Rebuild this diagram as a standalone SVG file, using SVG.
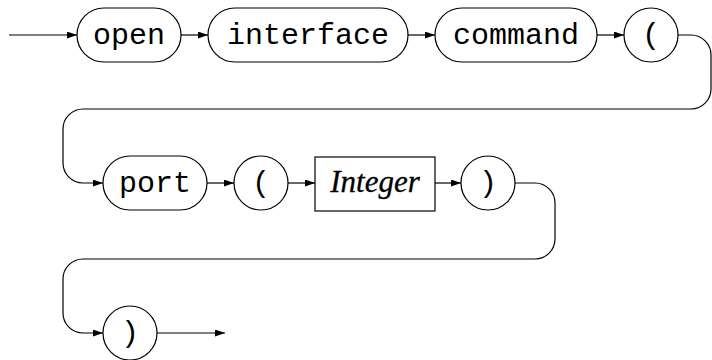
<svg xmlns="http://www.w3.org/2000/svg" width="712" height="360" viewBox="0 0 712 360">
  <style>
    .term { fill: #fff; stroke: #000; stroke-width: 1.2; }
    .nt { fill: #fff; stroke: #000; stroke-width: 1.2; }
    .lit { font-family: "Liberation Mono", "Courier New", monospace; font-size: 30px; fill: #000; text-anchor: middle; }
    .ref { font-family: "Liberation Serif", "Times New Roman", serif; font-size: 31px; font-style: italic; fill: #000; stroke: #000; stroke-width: 0.3; text-anchor: middle; }
    .wire { fill: none; stroke: #000; stroke-width: 1.2; }
  </style>
  <defs>
    <marker id="arrow" markerUnits="userSpaceOnUse" markerWidth="10" markerHeight="8" refX="10" refY="3.5" orient="auto">
      <path d="M0,0 L10,3.5 L0,7 z" fill="#000"/>
    </marker>
  </defs>

  <!-- connectors -->
  <g id="connectors">
    <path class="wire" d="M9,35 H77" marker-end="url(#arrow)"/>
    <path class="wire" d="M181,35 H208" marker-end="url(#arrow)"/>
    <path class="wire" d="M408,35 H435" marker-end="url(#arrow)"/>
    <path class="wire" d="M597,35 H624" marker-end="url(#arrow)"/>
    <path class="wire" d="M678,35 H691 A20,20 0 0 1 711,55 V89 A20,20 0 0 1 691,109 H83 A20,20 0 0 0 63,129 V163 A20,20 0 0 0 83,183 H103" marker-end="url(#arrow)"/>
    <path class="wire" d="M207,183 H234" marker-end="url(#arrow)"/>
    <path class="wire" d="M288,183 H315" marker-end="url(#arrow)"/>
    <path class="wire" d="M435,183 H461" marker-end="url(#arrow)"/>
    <path class="wire" d="M515,183 H535 A20,20 0 0 1 555,203 V239 A20,20 0 0 1 535,259 H83 A20,20 0 0 0 63,279 V313 A20,20 0 0 0 83,333 H103" marker-end="url(#arrow)"/>
    <path class="wire" d="M157,333 H225" marker-end="url(#arrow)"/>
  </g>

  <!-- row 1 -->
  <g id="open">
    <rect class="term" x="77" y="8" width="104" height="54" rx="27" ry="27"/>
    <text class="lit" x="129" y="44">open</text>
  </g>
  <g id="interface">
    <rect class="term" x="208" y="8" width="200" height="54" rx="27" ry="27"/>
    <text class="lit" x="308" y="44">interface</text>
  </g>
  <g id="command">
    <rect class="term" x="435" y="8" width="162" height="54" rx="27" ry="27"/>
    <text class="lit" x="516" y="44">command</text>
  </g>
  <g id="lparen1">
    <circle class="term" cx="651" cy="35" r="27"/>
    <text class="lit" x="651" y="44">(</text>
  </g>

  <!-- row 2 -->
  <g id="port">
    <rect class="term" x="103" y="156" width="104" height="54" rx="27" ry="27"/>
    <text class="lit" x="155" y="192">port</text>
  </g>
  <g id="lparen2">
    <circle class="term" cx="261" cy="183" r="27"/>
    <text class="lit" x="261" y="192">(</text>
  </g>
  <g id="integer">
    <rect class="nt" x="315" y="157" width="120" height="54"/>
    <text class="ref" x="375" y="192">Integer</text>
  </g>
  <g id="rparen1">
    <circle class="term" cx="488" cy="183" r="27"/>
    <text class="lit" x="488" y="192">)</text>
  </g>

  <!-- row 3 -->
  <g id="rparen2">
    <circle class="term" cx="130" cy="333" r="27"/>
    <text class="lit" x="130" y="342">)</text>
  </g>
</svg>
